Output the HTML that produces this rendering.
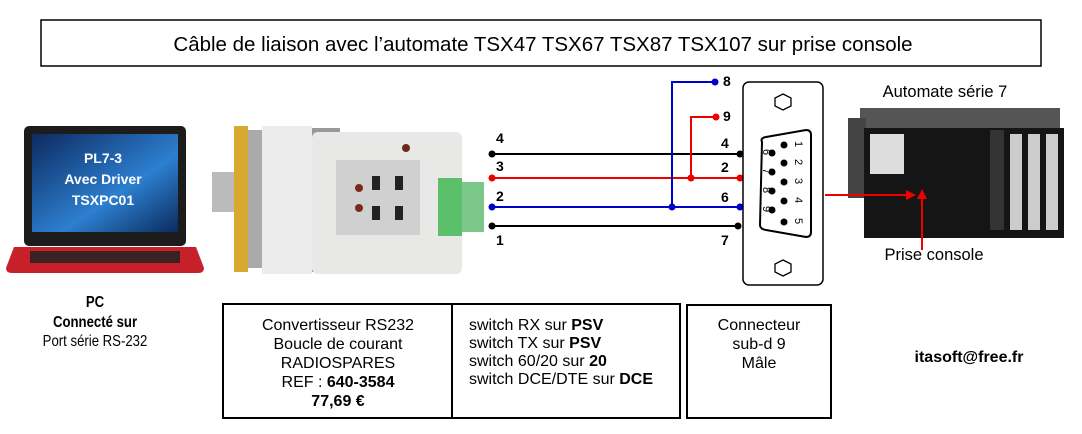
<!DOCTYPE html>
<html><head><meta charset="utf-8"><style>
body{margin:0;background:#fff;}
svg{display:block;font-family:"Liberation Sans",Arial,sans-serif;}
</style></head><body>
<svg width="1082" height="434" viewBox="0 0 1082 434" xmlns="http://www.w3.org/2000/svg">
<rect x="0" y="0" width="1082" height="434" fill="#fff"/>
<!-- title -->
<rect x="41" y="20" width="1000" height="46" fill="#fff" stroke="#000" stroke-width="1.5"/>
<text x="543" y="51" font-size="20.5" text-anchor="middle">Câble de liaison avec l’automate TSX47 TSX67 TSX87 TSX107 sur prise console</text>

<!-- laptop -->
<defs><linearGradient id="scr" x1="0" y1="0" x2="1" y2="1"><stop offset="0" stop-color="#0c2a60"/><stop offset="0.6" stop-color="#2d7fd0"/><stop offset="1" stop-color="#0b2b5e"/></linearGradient></defs>
<rect x="24" y="126" width="162" height="120" rx="5" fill="#1c1c1c"/>
<rect x="32" y="134" width="146" height="98" fill="url(#scr)"/>
<path d="M14 247 L196 247 L204 268 Q204 273 198 273 L12 273 Q6 273 6 268 Z" fill="#c8202a"/>
<rect x="30" y="251" width="150" height="12" fill="#3a2222"/>
<text x="103" y="163" font-size="14" font-weight="bold" fill="#fff" text-anchor="middle">PL7-3</text>
<text x="103" y="184" font-size="14" font-weight="bold" fill="#fff" text-anchor="middle">Avec Driver</text>
<text x="103" y="205" font-size="14" font-weight="bold" fill="#fff" text-anchor="middle">TSXPC01</text>

<!-- converter -->
<rect x="212" y="172" width="22" height="40" fill="#bbb"/>
<rect x="234" y="126" width="14" height="146" fill="#d8a830"/>
<rect x="248" y="130" width="14" height="138" fill="#aaa"/>
<rect x="262" y="126" width="50" height="148" fill="#ececec"/>
<rect x="312" y="128" width="28" height="22" fill="#999"/>
<rect x="312" y="250" width="28" height="22" fill="#999"/>
<rect x="312" y="132" width="150" height="142" rx="6" fill="#e8e8e6"/>
<rect x="336" y="160" width="84" height="75" fill="#d0d0d0"/>
<circle cx="359" cy="188" r="4" fill="#7a2a1a"/><circle cx="359" cy="208" r="4" fill="#7a2a1a"/>
<rect x="372" y="176" width="8" height="14" fill="#222"/><rect x="395" y="176" width="8" height="14" fill="#222"/>
<rect x="372" y="206" width="8" height="14" fill="#222"/><rect x="395" y="206" width="8" height="14" fill="#222"/>
<circle cx="406" cy="148" r="4" fill="#6a2a1a"/>
<rect x="438" y="178" width="24" height="58" fill="#5cbf6a"/>
<rect x="462" y="182" width="22" height="50" fill="#7cc88a"/>

<!-- wires -->
<g stroke-width="2" fill="none">
<line x1="492" y1="154" x2="740" y2="154" stroke="#000"/>
<line x1="492" y1="178" x2="740" y2="178" stroke="#e00"/>
<line x1="492" y1="207" x2="740" y2="207" stroke="#00c"/>
<line x1="492" y1="226" x2="738" y2="226" stroke="#000"/>
<polyline points="672,207 672,82 715,82" stroke="#00c"/>
<polyline points="691,178 691,117 716,117" stroke="#e00"/>
</g>
<g>
<circle cx="492" cy="154" r="3.5" fill="#000"/><circle cx="740" cy="154" r="3.5" fill="#000"/>
<circle cx="492" cy="178" r="3.5" fill="#e00"/><circle cx="740" cy="178" r="3.5" fill="#e00"/><circle cx="691" cy="178" r="3.5" fill="#e00"/><circle cx="716" cy="117" r="3.5" fill="#e00"/>
<circle cx="492" cy="207" r="3.5" fill="#00c"/><circle cx="740" cy="207" r="3.5" fill="#00c"/><circle cx="672" cy="207" r="3.5" fill="#00c"/><circle cx="715" cy="82" r="3.5" fill="#00c"/>
<circle cx="492" cy="226" r="3.5" fill="#000"/><circle cx="738" cy="226" r="3.5" fill="#000"/>
</g>
<g font-size="14" font-weight="bold">
<text x="496" y="143">4</text><text x="496" y="171">3</text><text x="496" y="201">2</text><text x="496" y="245">1</text>
<text x="721" y="148">4</text><text x="721" y="172">2</text><text x="721" y="202">6</text><text x="721" y="245">7</text>
<text x="723" y="86">8</text><text x="723" y="121">9</text>
</g>

<!-- DB9 connector -->
<rect x="743" y="82" width="80" height="203" rx="6" fill="#fff" stroke="#000" stroke-width="1.5"/>
<polygon points="783,94 791,98 791,106 783,110 775,106 775,98" fill="none" stroke="#000" stroke-width="1.3"/>
<polygon points="783,260 791,264 791,272 783,276 775,272 775,264" fill="none" stroke="#000" stroke-width="1.3"/>
<path d="M762 142 Q760 138 766 137 L806 130 Q811 130 811 135 L811 232 Q811 237 806 237 L766 230 Q760 229 760 225 Z" fill="none" stroke="#000" stroke-width="2"/>
<g fill="#000">
<circle cx="784" cy="145" r="3.5"/><circle cx="784" cy="163" r="3.5"/><circle cx="784" cy="182" r="3.5"/><circle cx="784" cy="201" r="3.5"/><circle cx="784" cy="222" r="3.5"/>
<circle cx="772" cy="153" r="3.5"/><circle cx="772" cy="172" r="3.5"/><circle cx="772" cy="191" r="3.5"/><circle cx="772" cy="210" r="3.5"/>
</g>
<g font-size="11">
<text transform="translate(795,141) rotate(90)">1</text><text transform="translate(795,159) rotate(90)">2</text><text transform="translate(795,178) rotate(90)">3</text><text transform="translate(795,197) rotate(90)">4</text><text transform="translate(795,218) rotate(90)">5</text>
<text transform="translate(763,149) rotate(90)">6</text><text transform="translate(763,168) rotate(90)">7</text><text transform="translate(763,187) rotate(90)">8</text><text transform="translate(763,206) rotate(90)">9</text>
</g>

<!-- PLC -->
<text x="945" y="97" font-size="16.5" text-anchor="middle">Automate série 7</text>
<rect x="860" y="108" width="200" height="22" fill="#555"/>
<rect x="848" y="118" width="18" height="80" fill="#444"/>
<rect x="864" y="128" width="200" height="110" fill="#151515"/>
<rect x="870" y="134" width="34" height="40" fill="#ddd"/>
<rect x="1010" y="134" width="12" height="96" fill="#ccc"/>
<rect x="1028" y="134" width="12" height="96" fill="#ccc"/>
<rect x="1046" y="134" width="12" height="96" fill="#ccc"/>
<rect x="990" y="130" width="14" height="100" fill="#333"/>
<line x1="825" y1="195" x2="908" y2="195" stroke="#e00" stroke-width="2"/>
<polygon points="916,195 906,190 906,200" fill="#e00"/>
<line x1="922" y1="250" x2="922" y2="198" stroke="#e00" stroke-width="2"/>
<polygon points="922,189 917,199 927,199" fill="#e00"/>
<text x="934" y="260" font-size="16.5" text-anchor="middle">Prise console</text>

<!-- PC text -->
<g transform="translate(95,0) scale(0.85,1)">
<text x="0" y="307" font-size="15.5" font-weight="bold" text-anchor="middle">PC</text>
<text x="0" y="327" font-size="15.5" font-weight="bold" text-anchor="middle">Connecté sur</text>
<text x="0" y="346" font-size="15.5" text-anchor="middle">Port série RS-232</text>
</g>

<!-- boxes -->
<rect x="223" y="304" width="457" height="114" fill="none" stroke="#000" stroke-width="2"/>
<line x1="452" y1="304" x2="452" y2="418" stroke="#000" stroke-width="2"/>
<rect x="687" y="305" width="144" height="113" fill="none" stroke="#000" stroke-width="2"/>
<g font-size="16" text-anchor="middle">
<text x="338" y="330">Convertisseur RS232</text>
<text x="338" y="349">Boucle de courant</text>
<text x="338" y="368">RADIOSPARES</text>
<text x="338" y="387">REF : <tspan font-weight="bold">640-3584</tspan></text>
<text x="338" y="406" font-weight="bold">77,69 €</text>
<text x="759" y="330">Connecteur</text>
<text x="759" y="349">sub-d 9</text>
<text x="759" y="368">Mâle</text>
</g>
<g font-size="16">
<text x="469" y="330">switch RX sur <tspan font-weight="bold">PSV</tspan></text>
<text x="469" y="348">switch TX sur <tspan font-weight="bold">PSV</tspan></text>
<text x="469" y="366">switch 60/20 sur <tspan font-weight="bold">20</tspan></text>
<text x="469" y="384">switch DCE/DTE sur <tspan font-weight="bold">DCE</tspan></text>
</g>
<text x="969" y="362" font-size="16" font-weight="bold" text-anchor="middle">itasoft@free.fr</text>
</svg>
</body></html>
